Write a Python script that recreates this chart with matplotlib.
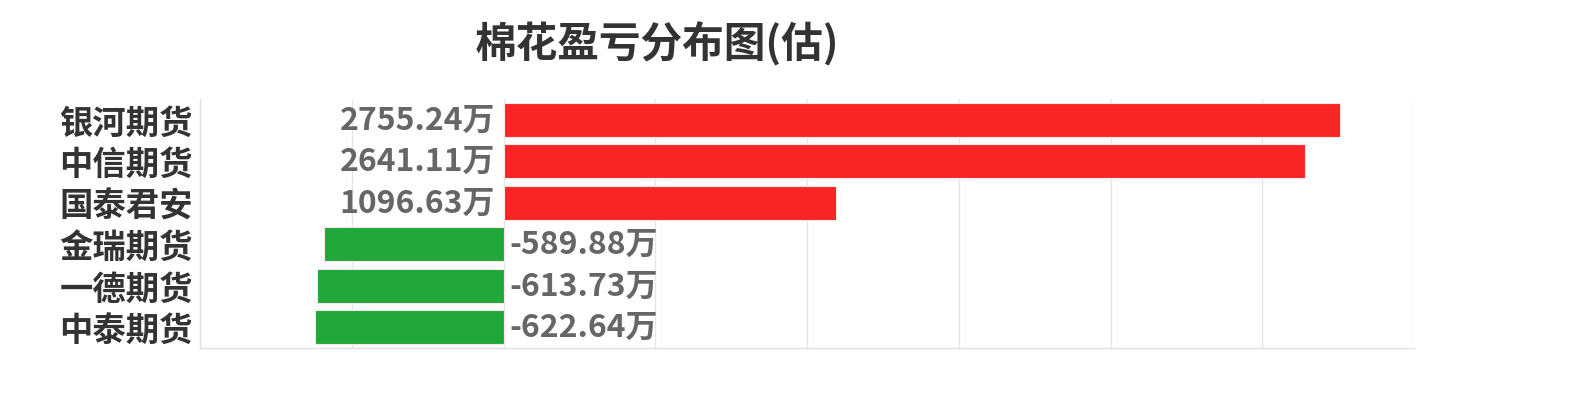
import matplotlib
matplotlib.use("Agg")
import matplotlib.pyplot as plt

# data
companies = ['银河期货', '中信期货', '国泰君安', '金瑞期货', '一德期货', '中泰期货']
values = [2755.24, 2641.11, 1096.63, -589.88, -613.73, -622.64]

plt.rcParams['font.family'] = ['Noto Sans CJK SC', 'DejaVu Sans']

fig = plt.figure(figsize=(15.72, 4.10), dpi=100)
ax = fig.add_axes([200 / 1572, 1 - 349 / 410, 1214 / 1572, 249 / 410])

colors = ['#f92425' if v >= 0 else '#21a63a' for v in values]
y = range(len(companies))
ax.barh(y, values, height=0.82, color=colors, edgecolor='#fbe4e4', linewidth=0.8, zorder=3)

for i, v in enumerate(values):
    txt = f'{v:.2f}万'
    if v >= 0:
        ax.annotate(txt, (0, i), xytext=(-6, 0), textcoords='offset points',
                    ha='right', va='center', fontsize=23, fontweight='bold', color='#666666')
    else:
        ax.annotate(txt, (0, i), xytext=(4, 0), textcoords='offset points',
                    ha='left', va='center', fontsize=23, fontweight='bold', color='#666666')

ax.set_xlim(-1000, 3000)
ax.set_ylim(len(companies) - 0.5, -0.5)
ax.set_xticks(range(-1000, 3001, 500))
ax.set_xticklabels([])
ax.set_yticks(list(y))
ax.set_yticklabels(companies, fontsize=24, fontweight='bold', color='#333333')
ax.tick_params(axis='both', length=0, pad=5)
ax.grid(axis='x', color='#e6e6e6', linewidth=1, zorder=0)

for s in ['top', 'right']:
    ax.spines[s].set_visible(False)
for s in ['left', 'bottom']:
    ax.spines[s].set_color('#e0e0e0')
    ax.spines[s].set_linewidth(1)

fig.text(657 / 1572, 1 - 44 / 410, '棉花盈亏分布图(估)', ha='center', va='center',
         fontsize=30, fontweight='bold', color='#333333')

fig.savefig('out.png', dpi=100)
